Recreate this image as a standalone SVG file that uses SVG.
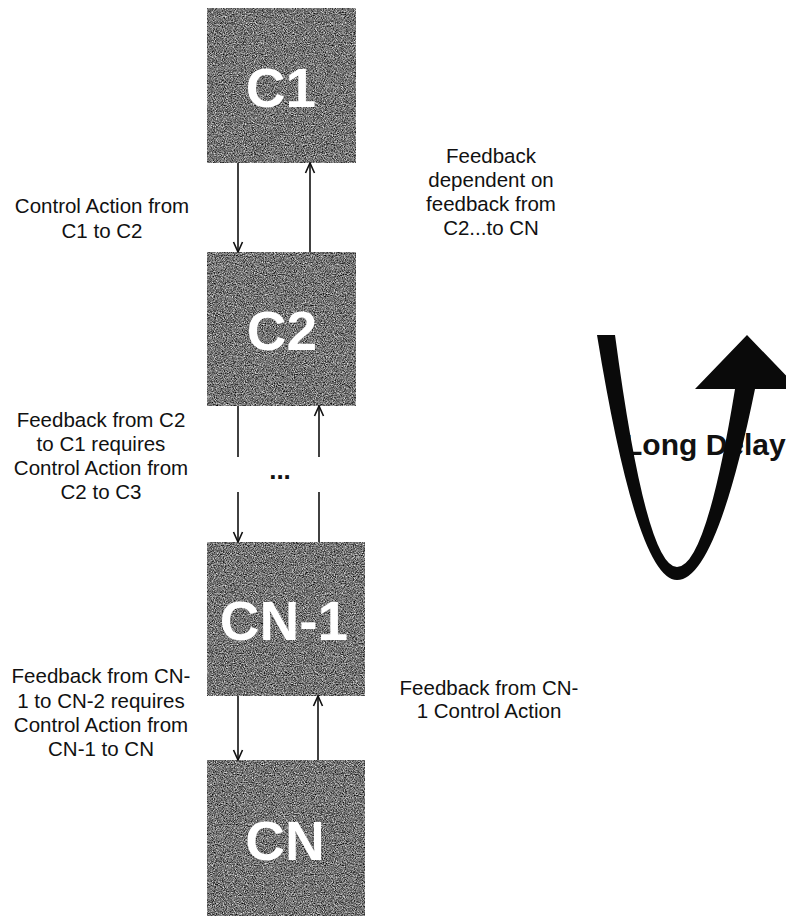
<svg xmlns="http://www.w3.org/2000/svg" width="786" height="916" viewBox="0 0 786 916">
<style>
.box{fill:#707070;filter:url(#grain)}
.btxt{font-family:"Liberation Sans",Arial,sans-serif;font-weight:bold;font-size:55px;fill:#fff;text-anchor:middle}
.lbl{font-family:"Liberation Sans",Arial,sans-serif;font-size:20.5px;fill:#111;text-anchor:middle}
.ln{stroke:#111;stroke-width:1.6;fill:none}
.arr{marker-end:url(#ah)}
</style>
<defs>
<filter id="grain" x="0" y="0" width="1" height="1" color-interpolation-filters="sRGB">
<feTurbulence type="fractalNoise" baseFrequency="0.9" numOctaves="3" seed="7" result="n"/>
<feColorMatrix in="n" type="matrix" values="1.25 0 0 0 -0.17  1.25 0 0 0 -0.17  1.25 0 0 0 -0.17  0 0 0 0 1" result="g"/>
<feComposite in="g" in2="SourceGraphic" operator="in"/>
</filter>
<marker id="ah" markerUnits="userSpaceOnUse" markerWidth="12" markerHeight="12" viewBox="0 0 12 12" refX="11" refY="6" orient="auto">
<path d="M1,1.5 L11,6 L1,10.5" fill="none" stroke="#111" stroke-width="1.6"/>
</marker>
</defs>
<rect width="786" height="916" fill="#fff"/>

<g id="c1"><rect class="box" x="207" y="8" width="149" height="155"/><text class="btxt" x="281" y="107">C1</text></g>
<g id="c2"><rect class="box" x="207" y="252" width="149" height="154"/><text class="btxt" x="282" y="350">C2</text></g>
<g id="cn1"><rect class="box" x="207" y="542" width="158" height="154"/><text class="btxt" x="284" y="640">CN-1</text></g>
<g id="cn"><rect class="box" x="207" y="760" width="158" height="156"/><text class="btxt" x="285" y="860">CN</text></g>

<g id="connectors">
<line class="ln arr" x1="238" y1="163" x2="238" y2="252"/>
<line class="ln arr" x1="310" y1="252" x2="310" y2="163"/>
<line class="ln" x1="238" y1="406" x2="238" y2="457"/>
<line class="ln arr" x1="238" y1="492" x2="238" y2="542"/>
<line class="ln" x1="319" y1="542" x2="319" y2="492"/>
<line class="ln arr" x1="319" y1="457" x2="319" y2="406"/>
<line class="ln arr" x1="238" y1="696" x2="238" y2="760"/>
<line class="ln arr" x1="318" y1="760" x2="318" y2="696"/>
</g>

<g id="dots"><text x="280" y="479" font-family="Liberation Sans,Arial,sans-serif" font-weight="bold" font-size="26" fill="#111" text-anchor="middle">...</text></g>

<g id="labels">
<text class="lbl" x="102" y="213">Control Action from</text>
<text class="lbl" x="102" y="238">C1 to C2</text>
<text class="lbl" x="101" y="427">Feedback from C2</text>
<text class="lbl" x="101" y="451">to C1 requires</text>
<text class="lbl" x="101" y="475">Control Action from</text>
<text class="lbl" x="101" y="499">C2 to C3</text>
<text class="lbl" x="101" y="683">Feedback from CN-</text>
<text class="lbl" x="101" y="708">1 to CN-2 requires</text>
<text class="lbl" x="101" y="732">Control Action from</text>
<text class="lbl" x="101" y="756">CN-1 to CN</text>
<text class="lbl" x="491" y="163">Feedback</text>
<text class="lbl" x="491" y="187">dependent on</text>
<text class="lbl" x="491" y="211">feedback from</text>
<text class="lbl" x="491" y="235">C2...to CN</text>
<text class="lbl" x="489" y="695">Feedback from CN-</text>
<text class="lbl" x="489" y="718">1 Control Action</text>
</g>

<g id="delay">
<text x="624" y="455" font-family="Liberation Sans,Arial,sans-serif" font-weight="bold" font-size="30" fill="#111">Long Delay</text>
<path d="M597,335 L615,335 Q646,567 677,567 Q706,567 735,389 L695,389 L747,335 L799,389 L755,389 Q716,580 677,580 Q637,580 597,335 Z" fill="#0a0a0a"/>
</g>
</svg>
